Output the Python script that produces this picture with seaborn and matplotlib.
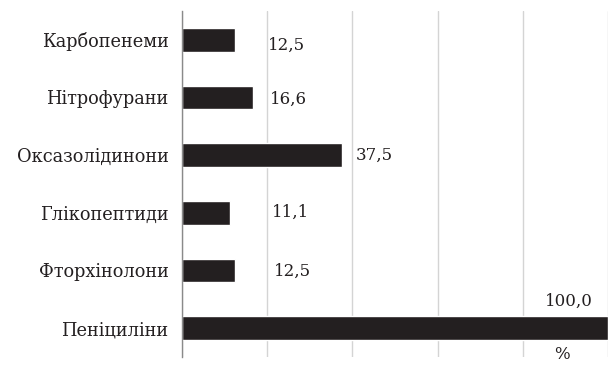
import matplotlib
matplotlib.use("Agg")
import matplotlib.pyplot as plt
import seaborn as sns
import pandas as pd

categories = ["Карбопенеми", "Нітрофурани", "Оксазолідинони", "Глікопептиди", "Фторхінолони", "Пеніциліни"]
values = [12.5, 16.6, 37.5, 11.1, 12.5, 100.0]
value_labels = ["12,5", "16,6", "37,5", "11,1", "12,5", "100,0"]
x_ticks = [0, 20, 40, 60, 80, 100]
axis_unit = "%"

# label placement (layout, data units)
label_x = [20.2, 20.6, 40.8, 21.0, 21.6, 85.3]
label_dy = [0.09, 0.04, 0.01, -0.01, 0.02, -0.47]

sns.set_theme(style="white")
plt.rcParams["font.family"] = ["DejaVu Serif"]

df = pd.DataFrame({"cat": categories, "val": values})

fig = plt.figure(figsize=(6.13, 3.66), dpi=100)
ax = fig.add_axes([0.2974, 0.0246, 0.694, 0.9454])
sns.barplot(data=df, x="val", y="cat", orient="h", color="#231f20",
            width=0.41, saturation=1, ax=ax)
ax.set_xlim(0, 100)
ax.set_ylim(5.5, -0.5)
ax.set_xticks(x_ticks)
ax.set_xticklabels([])
ax.xaxis.grid(True, color="#d4d4d4", linewidth=1)
ax.set_axisbelow(True)
for s in ["top", "right", "bottom"]:
    ax.spines[s].set_visible(False)
ax.spines["left"].set_color("#8a8a8a")
ax.spines["left"].set_linewidth(1)
ax.tick_params(axis="both", length=0)
ax.tick_params(axis="y", labelsize=12.8, pad=10, colors="#231f20")
ax.set_xlabel("")
ax.set_ylabel("")

for i, (lx, dy, lab) in enumerate(zip(label_x, label_dy, value_labels)):
    ax.text(lx, i + dy, lab, ha="left", va="center", fontsize=12, color="#231f20")

ax.text(89.2, 5.45, axis_unit, ha="center", va="center", fontsize=12, color="#231f20")

fig.savefig("out.png", dpi=100)
